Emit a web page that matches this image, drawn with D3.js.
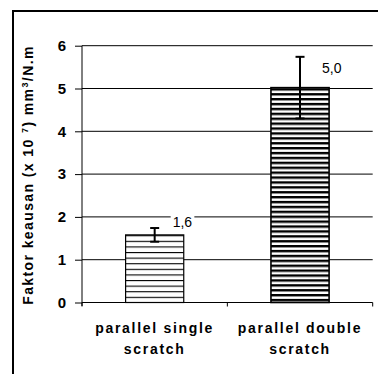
<!DOCTYPE html>
<html><head><meta charset="utf-8">
<script src="https://cdn.jsdelivr.net/npm/d3@7"></script>
<style>body{margin:0;background:#fff}svg{display:block}text{font-family:"Liberation Sans",Arial,sans-serif}</style>
</head><body>
<script>
const categories = [["parallel single","scratch"],["parallel double","scratch"]];
const values = [1.58, 5.02];
const errors = [0.16, 0.72];
const valueLabels = ["1,6", "5,0"];
const yTicks = [0,1,2,3,4,5,6];

const W=378,H=374;
const svg=d3.select("body").append("svg").attr("width",W).attr("height",H);
const defs=svg.append("defs");
const p1=defs.append("pattern").attr("id","p1").attr("patternUnits","userSpaceOnUse").attr("width",8).attr("height",5.6);
p1.append("rect").attr("width",8).attr("height",5.6).attr("fill","#fff");
p1.append("rect").attr("y",0).attr("width",8).attr("height",1.1).attr("fill","#000");
const p2=defs.append("pattern").attr("id","p2").attr("patternUnits","userSpaceOnUse").attr("width",8).attr("height",4.9);
p2.append("rect").attr("width",8).attr("height",4.9).attr("fill","#fff");
p2.append("rect").attr("y",0).attr("width",8).attr("height",2.4).attr("fill","#000");

// frame
svg.append("line").attr("x1",12).attr("x2",W).attr("y1",11).attr("y2",11).attr("stroke","#000").attr("stroke-width",2);
svg.append("line").attr("x1",13).attr("x2",13).attr("y1",10).attr("y2",H).attr("stroke","#000").attr("stroke-width",2);

const x=d3.scaleBand().domain(d3.range(categories.length)).range([82,372.7]).padding(0);
const y=d3.scaleLinear().domain([0,6]).range([302.5,45.7]);

// gridlines
svg.append("g").selectAll("line").data(yTicks.filter(d=>d>0)).join("line")
 .attr("x1",82).attr("x2",372.7).attr("y1",d=>y(d)).attr("y2",d=>y(d)).attr("stroke","#000").attr("stroke-width",1);

// y axis
const ya=svg.append("g").attr("transform","translate(82,0)").call(d3.axisLeft(y).tickValues(yTicks).tickSize(7).tickFormat(d3.format("d")));
ya.select(".domain").remove();
ya.selectAll(".tick line").attr("stroke","#000");
ya.selectAll(".tick text").attr("x",-16).attr("font-size",15).attr("font-weight","bold").attr("fill","#000").attr("font-family","Liberation Sans, Arial, sans-serif");
svg.append("line").attr("x1",82).attr("x2",82).attr("y1",45.7).attr("y2",306).attr("stroke","#000");

// x axis
svg.append("line").attr("x1",82).attr("x2",372.7).attr("y1",y(0)).attr("y2",y(0)).attr("stroke","#000");
const bounds=[82, ...d3.range(categories.length).map(i=>x(i)+x.bandwidth())];
svg.append("g").selectAll("line").data(bounds).join("line")
 .attr("x1",d=>d).attr("x2",d=>d).attr("y1",y(0)).attr("y2",y(0)+4).attr("stroke","#000");

// bars
const bw=x.bandwidth()*0.4;
const cx=i=>x(i)+x.bandwidth()/2;
svg.append("g").selectAll("rect").data(values).join("rect")
 .attr("x",(d,i)=>cx(i)-bw/2).attr("width",bw)
 .attr("y",d=>y(d)).attr("height",d=>y(0)-y(d))
 .attr("fill",(d,i)=>`url(#p${i+1})`).attr("stroke","#000").attr("stroke-width",(d,i)=>i?1.6:1.2);

// error bars
const eb=svg.append("g").attr("stroke","#000").attr("stroke-width",2);
values.forEach((v,i)=>{
  eb.append("line").attr("x1",cx(i)).attr("x2",cx(i)).attr("y1",y(v+errors[i])).attr("y2",y(v-errors[i]));
  [v+errors[i],v-errors[i]].forEach(e=>eb.append("line").attr("x1",cx(i)-4.5).attr("x2",cx(i)+4.5).attr("y1",y(e)).attr("y2",y(e)));
});

// value labels
const lblOff=[[18,-7.5],[22,-15]];
values.forEach((v,i)=>{
  const g=svg.append("g");
  const tx=cx(i)+lblOff[i][0], ty=y(v)+lblOff[i][1];
  const t=g.append("text").attr("x",tx).attr("y",ty).attr("font-size",14).attr("fill","#000").text(valueLabels[i]);
  const bb=t.node().getBBox();
  g.insert("rect","text").attr("x",bb.x-2).attr("y",bb.y).attr("width",bb.width+4).attr("height",bb.height).attr("fill","#fff");
});

// category labels
categories.forEach((lines,i)=>{
  const t=svg.append("text").attr("x",cx(i)).attr("text-anchor","middle").attr("font-size",14).attr("font-weight","bold").attr("letter-spacing",1.7).attr("fill","#000");
  lines.forEach((l,j)=>t.append("tspan").attr("x",cx(i)).attr("y",333+j*21).text(l));
});

// y title
const yt=svg.append("text").attr("transform","translate(33,175) rotate(-90)").attr("text-anchor","middle")
 .attr("font-size",14).attr("font-weight","bold").attr("letter-spacing",1.4).attr("fill","#000");
yt.append("tspan").text("Faktor keausan (x 10 ");
yt.append("tspan").attr("font-size",9).attr("dy",-5).text("7");
yt.append("tspan").attr("dy",5).text(") mm");
yt.append("tspan").attr("font-size",9).attr("dy",-5).text("3");
yt.append("tspan").attr("dy",5).text("/N.m");
</script>
</body></html>
